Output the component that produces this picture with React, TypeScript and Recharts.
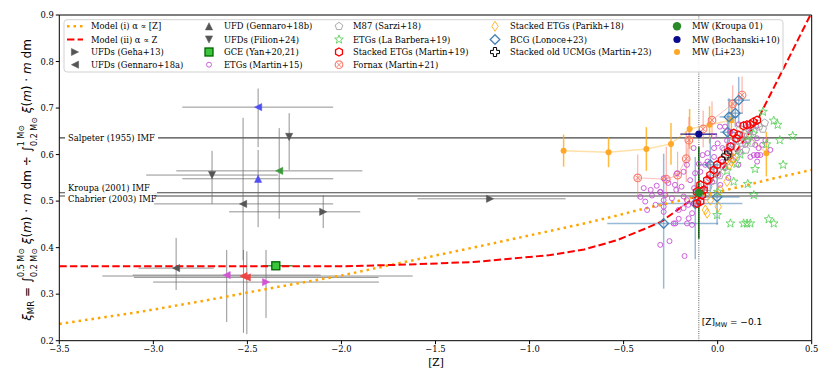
import React from 'react';
import { ComposedChart, XAxis, YAxis, Scatter, Line, ReferenceLine, ErrorBar } from 'recharts';

const W = 830;
const H = 383;
const SERIF = '"DejaVu Serif", serif';
const SANS = '"DejaVu Sans", sans-serif';

// ---------- tick labels ----------
const xTicks = [-3.5, -3.0, -2.5, -2.0, -1.5, -1.0, -0.5, 0.0, 0.5];
const yTicks = [0.2, 0.3, 0.4, 0.5, 0.6, 0.7, 0.8, 0.9];

// ---------- IMF reference values ----------
const imfSalpeter = 0.636;
const imfKroupa = 0.518;
const imfChabrier = 0.511;
const zMW = -0.1;

// ---------- model curves [x, y] ----------
const modelI = [
  [-3.5, 0.236], [-3.07, 0.262], [-2.7, 0.288], [-2.36, 0.314], [-2.0, 0.34], [-1.7, 0.366],
  [-1.3, 0.4], [-0.89, 0.436], [-0.71, 0.452], [-0.535, 0.469], [-0.39, 0.484], [-0.3, 0.492],
  [0.12, 0.531], [0.3, 0.549], [0.5, 0.567],
];
const modelII = [
  [-3.5, 0.36], [-2.0, 0.36], [-1.7, 0.363], [-1.3, 0.369], [-0.89, 0.384], [-0.71, 0.396],
  [-0.535, 0.416], [-0.39, 0.44], [-0.3, 0.456], [-0.2, 0.485], [-0.1, 0.515], [0.0, 0.556],
  [0.1, 0.608], [0.2, 0.665], [0.3, 0.745], [0.4, 0.825], [0.493, 0.9],
];

// ---------- UFDs: [x, y, exLow, exHigh, eyLow, eyHigh] ----------
const ufdGrayRight = [[-2.097, 0.477, 0.5, 0.197, 0.035, 0.036], [-1.21, 0.505, 0.386, 0.402, 0, 0]];
const ufdMagentaRight = [[-2.401, 0.326, 0.6, 0.6, 0.077, 0.069]];
const ufdGrayLeft = [[-2.523, 0.494, 0.473, 0.479, 0.121, 0.185], [-2.879, 0.356, 0.2, 0.2, 0.047, 0.065]];
const ufdBlueLeft = [[-2.443, 0.702, 0.403, 0.399, 0.086, 0.04]];
const ufdGreenLeft = [[-2.331, 0.565, 0.547, 0.442, 0.103, 0.092]];
const ufdMagentaLeft = [[-2.61, 0.341, 0.5, 0.5, 0.101, 0.054]];
const ufdRedLeft = [[-2.521, 0.339, 0.75, 0.9, 0.122, 0.056], [-2.503, 0.336, 0.6, 0.7, 0.122, 0.056]];
const ufdBlueUp = [[-2.443, 0.548, 0.403, 0.399, 0.104, 0.062]];
const ufdGrayDown = [[-2.278, 0.638, 0, 0, 0.071, 0.051], [-2.688, 0.556, 0.35, 0.35, 0.062, 0.052]];
const gceYan = [[-2.349, 0.361, 0.07, 0.09, 0, 0]];

// ---------- ETGs (Martin+15) [x, y] ----------
const etgsMartin15 = [
  [-0.305, 0.406], [-0.256, 0.414], [-0.176, 0.382], [-0.375, 0.481], [-0.225, 0.452], [-0.207, 0.462],
  [-0.234, 0.452], [-0.163, 0.452], [-0.136, 0.449], [-0.154, 0.463], [-0.136, 0.474], [-0.181, 0.485],
  [-0.207, 0.481], [-0.243, 0.506], [-0.287, 0.477], [-0.287, 0.488], [-0.287, 0.502], [-0.278, 0.513],
  [-0.305, 0.519], [-0.33, 0.492], [-0.349, 0.512], [-0.385, 0.499], [-0.181, 0.51], [-0.163, 0.502],
  [0.012, 0.66], [0.039, 0.66], [0.112, 0.665], [0.156, 0.66], [0.174, 0.649], [0.068, 0.649],
  [0.209, 0.635], [0.227, 0.599], [0.209, 0.599], [0.192, 0.599], [0.174, 0.595], [0.21, 0.585],
  [0.0, 0.624], [0.025, 0.614], [-0.019, 0.614], [-0.054, 0.603], [-0.019, 0.595], [-0.054, 0.585],
  [-0.08, 0.599], [-0.163, 0.578], [-0.181, 0.563], [-0.216, 0.56], [-0.287, 0.549], [-0.305, 0.52],
  [-0.192, 0.531], [-0.227, 0.535], [-0.128, 0.614], [-0.146, 0.545], [-0.125, 0.528], [-0.092, 0.563],
  [-0.066, 0.578], [-0.012, 0.567], [0.025, 0.584], [0.057, 0.61], [0.094, 0.631], [0.131, 0.642],
  [0.163, 0.631], [0.254, 0.631], [0.28, 0.61], [0.237, 0.621], [0.147, 0.621], [0.121, 0.606],
  [0.083, 0.588], [0.04, 0.571], [0.004, 0.556], [-0.028, 0.541], [-0.066, 0.528], [-0.092, 0.507],
  [-0.119, 0.496], [-0.156, 0.492], [0.014, 0.535], [0.057, 0.55], [0.11, 0.578], [-0.22, 0.524],
  [-0.262, 0.539], [-0.324, 0.533], [-0.356, 0.524], [-0.41, 0.509], [-0.393, 0.528], [0.2, 0.621],
  [0.218, 0.614], [0.213, 0.599], [0.206, 0.661], [-0.1, 0.58], [-0.05, 0.55], [-0.12, 0.56],
  [0.08, 0.62], [-0.02, 0.64], [0.05, 0.63],
];

// ---------- M87 (Sarzi+18) ----------
const m87Sarzi = [
  [-0.09, 0.52], [-0.07, 0.535], [-0.05, 0.53], [-0.04, 0.55], [-0.02, 0.545], [0.0, 0.565],
  [0.01, 0.555], [0.03, 0.575], [0.02, 0.59], [0.05, 0.585], [0.06, 0.6], [0.08, 0.605],
  [0.07, 0.625], [0.1, 0.615], [0.11, 0.63], [0.13, 0.625], [0.14, 0.645], [0.16, 0.64],
  [0.17, 0.655], [0.19, 0.65], [0.2, 0.665], [0.22, 0.66], [0.24, 0.655], [0.25, 0.668],
  [0.1, 0.595], [0.15, 0.61], [0.18, 0.625], [-0.03, 0.575], [0.04, 0.61], [0.12, 0.655],
  [-0.11, 0.505], [-0.06, 0.51],
];

// ---------- ETGs (La Barbera+19) ----------
const etgsLaBarbera = [
  [0.241, 0.692], [0.298, 0.673], [0.319, 0.664], [0.399, 0.64], [0.33, 0.631], [0.259, 0.622],
  [0.348, 0.578], [0.199, 0.569], [0.16, 0.537], [0.192, 0.513], [0.271, 0.461], [0.298, 0.452],
  [0.138, 0.452], [0.156, 0.452], [0.174, 0.452], [0.068, 0.452], [-0.003, 0.47], [0.085, 0.542],
  [0.12, 0.6], [0.16, 0.63], [0.05, 0.565], [0.19, 0.645], [0.0, 0.52], [0.1, 0.58],
];

// ---------- Stacked ETGs (Martin+19) ----------
const stackedMartin19 = [
  [0.209, 0.674], [0.174, 0.665], [0.138, 0.662], [0.112, 0.642], [0.1, 0.635], [0.068, 0.617],
  [0.056, 0.606], [0.023, 0.588], [-0.003, 0.578], [-0.021, 0.567], [-0.039, 0.556], [-0.056, 0.545],
  [-0.092, 0.535], [-0.11, 0.52], [-0.074, 0.524], [-0.083, 0.513], [-0.11, 0.495], [-0.092, 0.499],
  [0.085, 0.646], [0.156, 0.664], [0.19, 0.67],
];

// ---------- Fornax (Martin+21) [x, y, eyLow, eyHigh] ----------
const fornaxMartin21 = [
  [-0.425, 0.55, 0.045, 0.05], [-0.273, 0.547, 0.04, 0.07], [-0.213, 0.556, 0.04, 0.05],
  [-0.167, 0.591, 0.05, 0.06], [-0.153, 0.631, 0.045, 0.05], [-0.077, 0.655, 0.04, 0.04],
  [-0.03, 0.674, 0.04, 0.04], [0.08, 0.709, 0.04, 0.04], [0.13, 0.728, 0.04, 0.04],
];

// ---------- Stacked ETGs (Parikh+18) ----------
const stackedParikh18 = [
  [-0.056, 0.474], [-0.065, 0.481], [0.003, 0.488], [0.085, 0.592], [0.073, 0.585],
  [0.064, 0.578], [0.05, 0.542], [0.014, 0.524], [-0.039, 0.502],
];

// ---------- BCG (Lonoce+23) [x, y, exLow, exHigh, eyLow, eyHigh] ----------
const bcgLonoce = [
  [0.112, 0.717, 0.06, 0.06, 0.05, 0.05], [0.094, 0.689, 0.04, 0.04, 0.03, 0.03],
  [0.06, 0.681, 0.05, 0.05, 0.04, 0.04], [0.053, 0.648, 0.04, 0.04, 0.04, 0.04],
  [-0.039, 0.578, 0.06, 0.06, 0.06, 0.06], [-0.287, 0.452, 0.3, 0.29, 0.14, 0.15],
  [-0.119, 0.495, 0.2, 0.25, 0.12, 0.1], [-0.003, 0.509, 0.15, 0.12, 0.06, 0.08],
];

// ---------- Stacked old UCMGs (Martin+23) ----------
const ucmgMartin23 = [[0.046, 0.598]];

// ---------- Milky Way ----------
const mwKroupa = [[-0.1, 0.518, 0.099, 0.099]];
const mwBochanski = [[-0.1, 0.644, 0.098, 0.097]];
const mwLi23 = [
  [-0.819, 0.608, 0.034, 0.035], [-0.58, 0.605, 0.032, 0.032], [-0.379, 0.612, 0.047, 0.047],
  [-0.248, 0.623, 0.045, 0.045], [-0.149, 0.655, 0.043, 0.043], [-0.043, 0.664, 0.04, 0.04],
  [0.073, 0.674, 0.04, 0.04], [0.259, 0.603, 0.05, 0.046],
];

// ---------- helpers ----------
const pts = (a: number[][]) => a.map((p) => ({ x: p[0], y: p[1] }));
const ptsXY = (a: number[][]) => a.map((p) => ({ x: p[0], y: p[1], ex: [p[2], p[3]], ey: [p[4], p[5]] }));
const ptsY = (a: number[][]) => a.map((p) => ({ x: p[0], y: p[1], ey: [p[2], p[3]] }));
const ptsX = (a: number[][]) => a.map((p) => ({ x: p[0], y: p[1], ex: [p[2], p[3]] }));

const fmt = (v: number) => v.toFixed(1).replace('-', '\u2212');

const poly = (cx: number, cy: number, p: number[][]) =>
  p.map((q) => `${(cx + q[0]).toFixed(2)},${(cy + q[1]).toFixed(2)}`).join(' ');
const regular = (n: number, r: number) =>
  Array.from({ length: n }, (_, i) => {
    const a = (i * 2 * Math.PI) / n;
    return [r * Math.sin(a), -r * Math.cos(a)];
  });
const starPts = (ro: number, ri: number) =>
  Array.from({ length: 10 }, (_, i) => {
    const a = (i * Math.PI) / 5;
    const r = i % 2 === 0 ? ro : ri;
    return [r * Math.sin(a), -r * Math.cos(a)];
  });

type MP = { cx?: number; cy?: number };
const triShape = (dir: string, fill: string, s = 3.6) => (p: MP) => {
  const cx = p.cx ?? 0;
  const cy = p.cy ?? 0;
  let q: number[][] = [];
  if (dir === 'right') q = [[s, 0], [-s, -s], [-s, s]];
  if (dir === 'left') q = [[-s, 0], [s, -s], [s, s]];
  if (dir === 'up') q = [[0, -s], [-s, s], [s, s]];
  if (dir === 'down') q = [[0, s], [-s, -s], [s, -s]];
  return <polygon points={poly(cx, cy, q)} fill={fill} stroke={fill} strokeWidth={0.5} />;
};
const squareShape = (p: MP) => {
  const cx = p.cx ?? 0;
  const cy = p.cy ?? 0;
  return <rect x={cx - 4} y={cy - 4} width={8} height={8} fill="#3cc43c" stroke="#006400" strokeWidth={1.3} />;
};
const smallCircle = (p: MP) => (
  <circle cx={p.cx} cy={p.cy} r={2.5} fill="none" stroke="#c64fd6" strokeWidth={0.9} />
);
const pentShape = (p: MP) => (
  <polygon points={poly(p.cx ?? 0, p.cy ?? 0, regular(5, 4))} fill="none" stroke="#a0a0a0" strokeWidth={0.9} />
);
const starShape = (p: MP) => (
  <polygon points={poly(p.cx ?? 0, p.cy ?? 0, starPts(4.6, 1.9))} fill="none" stroke="#5fd35f" strokeWidth={0.9} />
);
const hexShape = (p: MP) => (
  <polygon points={poly(p.cx ?? 0, p.cy ?? 0, regular(6, 4))} fill="none" stroke="#ff0000" strokeWidth={1.3} />
);
const fornaxShape = (p: MP) => {
  const cx = p.cx ?? 0;
  const cy = p.cy ?? 0;
  return (
    <g>
      <circle cx={cx} cy={cy} r={3.8} fill="none" stroke="#fa8072" strokeWidth={1.2} />
      <line x1={cx - 2.5} y1={cy - 2.5} x2={cx + 2.5} y2={cy + 2.5} stroke="#fa8072" strokeWidth={1} />
      <line x1={cx - 2.5} y1={cy + 2.5} x2={cx + 2.5} y2={cy - 2.5} stroke="#fa8072" strokeWidth={1} />
    </g>
  );
};
const thinDiamond = (p: MP) => (
  <polygon points={poly(p.cx ?? 0, p.cy ?? 0, [[0, -5], [3.2, 0], [0, 5], [-3.2, 0]])} fill="none" stroke="#ffa500" strokeWidth={0.8} />
);
const diamondShape = (p: MP) => (
  <polygon points={poly(p.cx ?? 0, p.cy ?? 0, [[0, -4.8], [4.8, 0], [0, 4.8], [-4.8, 0]])} fill="none" stroke="#4682b4" strokeWidth={1.3} />
);
const plusShape = (p: MP) => {
  const a = 4.5;
  const t = 1.6;
  return (
    <polygon
      points={poly(p.cx ?? 0, p.cy ?? 0, [
        [-t, -a], [t, -a], [t, -t], [a, -t], [a, t], [t, t], [t, a], [-t, a], [-t, t], [-a, t], [-a, -t], [-t, -t],
      ])}
      fill="none"
      stroke="#000"
      strokeWidth={1}
    />
  );
};
const dotShape = (color: string, r: number) => (p: MP) => <circle cx={p.cx} cy={p.cy} r={r} fill={color} />;

const UFD_ERR = 'rgba(110,110,110,0.75)';

const ImfLabel = (props: any) => {
  const vb = props.viewBox || { x: 0, y: 0 };
  const y = vb.y + props.off;
  return (
    <g>
      <rect x={vb.x + 5.7} y={y - 5.5} width={props.w} height={11} fill="#fff" />
      <text x={vb.x + 8.7} y={y} dominantBaseline="central" fontSize={8.4} fontFamily={SERIF} fill="#000">
        {props.text}
      </text>
    </g>
  );
};
const MWLabel = (props: any) => {
  const vb = props.viewBox || { x: 0, y: 0, height: 0 };
  return (
    <text x={vb.x + 3} y={vb.y + vb.height - 16} fontSize={9} fontFamily={SANS} fill="#000">
      [Z]
      <tspan fontSize={6.5} dy={2}>MW</tspan>
      <tspan dy={-2}> = {'\u2212'}0.1</tspan>
    </text>
  );
};

// ---------- legend ----------
const legRows = [26.3, 39.5, 52, 64.7];
const legCols = [75, 209, 339, 495, 677];
const legText = [91, 224, 353, 510, 692];
const legendItems: { col: number; row: number; label: any; kind: string }[] = [
  { col: 0, row: 0, label: 'Model (i) \u03b1 \u221d [Z]', kind: 'mI' },
  { col: 0, row: 1, label: 'Model (ii) \u03b1 \u221d Z', kind: 'mII' },
  { col: 0, row: 2, label: 'UFDs (Geha+13)', kind: 'right' },
  { col: 0, row: 3, label: 'UFDs (Gennaro+18a)', kind: 'left' },
  { col: 1, row: 0, label: 'UFD (Gennaro+18b)', kind: 'up' },
  { col: 1, row: 1, label: 'UFDs (Filion+24)', kind: 'down' },
  { col: 1, row: 2, label: 'GCE (Yan+20,21)', kind: 'square' },
  { col: 1, row: 3, label: 'ETGs (Martin+15)', kind: 'circ' },
  { col: 2, row: 0, label: 'M87 (Sarzi+18)', kind: 'pent' },
  { col: 2, row: 1, label: 'ETGs (La Barbera+19)', kind: 'star' },
  { col: 2, row: 2, label: 'Stacked ETGs (Martin+19)', kind: 'hex' },
  { col: 2, row: 3, label: 'Fornax (Martin+21)', kind: 'fornax' },
  { col: 3, row: 0, label: 'Stacked ETGs (Parikh+18)', kind: 'thind' },
  { col: 3, row: 1, label: 'BCG (Lonoce+23)', kind: 'diam' },
  { col: 3, row: 2, label: 'Stacked old UCMGs (Martin+23)', kind: 'plus' },
  { col: 4, row: 0, label: 'MW (Kroupa 01)', kind: 'kroupa' },
  { col: 4, row: 1, label: 'MW (Bochanski+10)', kind: 'boch' },
  { col: 4, row: 2, label: 'MW (Li+23)', kind: 'li' },
];
const legendMarker = (kind: string, cx: number, cy: number) => {
  const p = { cx, cy };
  switch (kind) {
    case 'mI':
      return <line x1={cx - 8} y1={cy} x2={cx + 8} y2={cy} stroke="#ffa500" strokeWidth={2.5} strokeDasharray="2.5 4" />;
    case 'mII':
      return <line x1={cx - 8} y1={cy} x2={cx + 8} y2={cy} stroke="#ff0000" strokeWidth={2} strokeDasharray="7.4 3.2" />;
    case 'right':
    case 'left':
    case 'up':
    case 'down':
      return triShape(kind, '#555555')(p);
    case 'square':
      return squareShape(p);
    case 'circ':
      return smallCircle(p);
    case 'pent':
      return pentShape(p);
    case 'star':
      return starShape(p);
    case 'hex':
      return hexShape(p);
    case 'fornax':
      return fornaxShape(p);
    case 'thind':
      return thinDiamond(p);
    case 'diam':
      return diamondShape(p);
    case 'plus':
      return plusShape(p);
    case 'kroupa':
      return dotShape('#2a8a2a', 4.2)(p);
    case 'boch':
      return dotShape('#0a0a8c', 3.6)(p);
    case 'li':
      return dotShape('#ffa726', 3)(p);
    default:
      return null;
  }
};

const Overlay = () => (
  <svg width={W} height={H} style={{ position: 'absolute', left: 0, top: 0, pointerEvents: 'none' }}>
    <rect x={64} y={19.7} width={719} height={52.3} rx={3} fill="rgba(255,255,255,0.9)" stroke="#cccccc" strokeWidth={0.9} />
    {legendItems.map((it, i) => (
      <g key={i}>
        {legendMarker(it.kind, legCols[it.col], legRows[it.row])}
        <text x={legText[it.col]} y={legRows[it.row]} dominantBaseline="central" fontSize={8.4} fontFamily={SERIF} fill="#000">
          {it.label}
        </text>
      </g>
    ))}
    <text x={436} y={366} textAnchor="middle" fontSize={10.5} fontFamily={SERIF} fill="#000">
      [Z]
    </text>
    <text transform="translate(31,180) rotate(-90)" textAnchor="middle" fontFamily={SANS} fontSize={12} fill="#000">
      <tspan fontStyle="italic">{'\u03be'}</tspan>
      <tspan fontSize={8.5} dy={3}>MR</tspan>
      <tspan dy={-3}> = {'\u222b'}</tspan>
      <tspan fontSize={8} dy={-7}>0.5 M{'\u2299'}</tspan>
      <tspan fontSize={8} dx={-28.9} dy={13}>0.2 M{'\u2299'}</tspan>
      <tspan dy={-6}> </tspan>
      <tspan fontStyle="italic">{'\u03be'}</tspan>
      <tspan>(</tspan>
      <tspan fontStyle="italic">m</tspan>
      <tspan>) {'\u00b7'} </tspan>
      <tspan fontStyle="italic">m</tspan>
      <tspan> dm {'\u00f7'} {'\u222b'}</tspan>
      <tspan fontSize={8} dy={-7}>1 M{'\u2299'}</tspan>
      <tspan fontSize={8} dx={-21} dy={13}>0.2 M{'\u2299'}</tspan>
      <tspan dy={-6}> </tspan>
      <tspan fontStyle="italic">{'\u03be'}</tspan>
      <tspan>(</tspan>
      <tspan fontStyle="italic">m</tspan>
      <tspan>) {'\u00b7'} </tspan>
      <tspan fontStyle="italic">m</tspan>
      <tspan> dm</tspan>
    </text>
  </svg>
);

export default function App() {
  return (
    <div style={{ position: 'absolute', left: 0, top: 0, width: W, height: H, background: '#fff' }}>
      <ComposedChart width={W} height={H} margin={{ top: 15, right: 18.3, bottom: 12.3, left: 0 }}>
        <XAxis
          type="number"
          dataKey="x"
          domain={[-3.5, 0.5]}
          ticks={xTicks}
          interval={0}
          allowDataOverflow
          tickFormatter={fmt}
          tick={{ fontSize: 8.4, fill: '#000', fontFamily: SERIF }}
          tickLine={{ stroke: '#000' }}
          axisLine={{ stroke: '#000' }}
          tickSize={3.5}
          height={30}
        />
        <YAxis
          type="number"
          dataKey="y"
          domain={[0.2, 0.9]}
          ticks={yTicks}
          interval={0}
          allowDataOverflow
          tickFormatter={fmt}
          tick={{ fontSize: 8.4, fill: '#000', fontFamily: SERIF }}
          tickLine={{ stroke: '#000' }}
          axisLine={{ stroke: '#000' }}
          tickSize={3.5}
          width={59.3}
        />
        <ReferenceLine y={imfSalpeter} stroke="#444" strokeWidth={1.1} />
        <ReferenceLine y={imfKroupa} stroke="#444" strokeWidth={1.1} />
        <ReferenceLine y={imfChabrier} stroke="#444" strokeWidth={1.1} />
        <ReferenceLine y={imfSalpeter} stroke="none" label={<ImfLabel text="Salpeter (1955) IMF" off={0} w={93} />} />
        <ReferenceLine y={imfKroupa} stroke="none" label={<ImfLabel text="Kroupa (2001) IMF" off={-4.7} w={92} />} />
        <ReferenceLine y={imfChabrier} stroke="none" label={<ImfLabel text="Chabrier (2003) IMF" off={2.8} w={89} />} />

        {[
          { d: ufdGrayRight, s: triShape('right', '#555555') },
          { d: ufdMagentaRight, s: triShape('right', '#d455d4') },
          { d: ufdGrayLeft, s: triShape('left', '#555555') },
          { d: ufdBlueLeft, s: triShape('left', '#4f4ff5') },
          { d: ufdGreenLeft, s: triShape('left', '#3a9a3a') },
          { d: ufdMagentaLeft, s: triShape('left', '#d455d4') },
          { d: ufdRedLeft, s: triShape('left', '#ee4444') },
          { d: ufdBlueUp, s: triShape('up', '#4f4ff5') },
          { d: ufdGrayDown, s: triShape('down', '#555555') },
        ].map((g, i) => (
          <Scatter key={'ufd' + i} data={ptsXY(g.d)} shape={g.s} isAnimationActive={false}>
            <ErrorBar dataKey="ex" direction="x" width={0} stroke={UFD_ERR} strokeWidth={1} />
            <ErrorBar dataKey="ey" direction="y" width={0} stroke={UFD_ERR} strokeWidth={1} />
          </Scatter>
        ))}
        <Scatter data={ptsXY(gceYan)} shape={squareShape} isAnimationActive={false}>
          <ErrorBar dataKey="ex" direction="x" width={0} stroke="#2a8a2a" strokeWidth={1.3} />
        </Scatter>

        <Scatter
          data={ptsY(mwLi23)}
          shape={dotShape('#ffa726', 3)}
          line={{ stroke: 'rgba(255,165,0,0.35)', strokeWidth: 1.5 }}
          isAnimationActive={false}
        >
          <ErrorBar dataKey="ey" direction="y" width={0} stroke="rgba(255,165,0,0.75)" strokeWidth={1.5} />
        </Scatter>
        <Scatter
          data={ptsY(fornaxMartin21)}
          shape={fornaxShape}
          line={{ stroke: 'rgba(250,128,114,0.5)', strokeWidth: 1 }}
          isAnimationActive={false}
        >
          <ErrorBar dataKey="ey" direction="y" width={0} stroke="rgba(250,128,114,0.6)" strokeWidth={1.2} />
        </Scatter>
        <Scatter data={ptsXY(bcgLonoce)} shape={diamondShape} isAnimationActive={false}>
          <ErrorBar dataKey="ex" direction="x" width={0} stroke="rgba(70,130,180,0.55)" strokeWidth={1.5} />
          <ErrorBar dataKey="ey" direction="y" width={0} stroke="rgba(70,130,180,0.55)" strokeWidth={1.5} />
        </Scatter>
        <Scatter data={pts(etgsMartin15)} shape={smallCircle} isAnimationActive={false} />
        <Scatter data={pts(m87Sarzi)} shape={pentShape} isAnimationActive={false} />
        <Scatter data={pts(etgsLaBarbera)} shape={starShape} isAnimationActive={false} />
        <Scatter data={pts(stackedParikh18)} shape={thinDiamond} isAnimationActive={false} />
        <Scatter data={pts(stackedMartin19)} shape={hexShape} isAnimationActive={false} />
        <Scatter data={pts(ucmgMartin23)} shape={plusShape} isAnimationActive={false} />

        <Line
          data={pts(modelI)}
          dataKey="y"
          type="linear"
          stroke="#ffa500"
          strokeWidth={2.5}
          strokeDasharray="2.5 4"
          dot={false}
          activeDot={false}
          isAnimationActive={false}
        />
        <Line
          data={pts(modelII)}
          dataKey="y"
          type="linear"
          stroke="#ff0000"
          strokeWidth={2}
          strokeDasharray="7.4 3.2"
          dot={false}
          activeDot={false}
          isAnimationActive={false}
        />

        <Scatter data={ptsY(mwKroupa)} shape={dotShape('#2a8a2a', 4.2)} isAnimationActive={false}>
          <ErrorBar dataKey="ey" direction="y" width={0} stroke="#1e7a1e" strokeWidth={1.6} />
        </Scatter>
        <Scatter data={ptsX(mwBochanski)} shape={dotShape('#0a0a8c', 3.6)} isAnimationActive={false}>
          <ErrorBar dataKey="ex" direction="x" width={0} stroke="#0a0a8c" strokeWidth={1.3} />
        </Scatter>

        <ReferenceLine x={zMW} stroke="#000" strokeWidth={0.8} strokeDasharray="0.8 1.4" label={<MWLabel />} />
        <ReferenceLine y={0.9} stroke="#000" strokeWidth={1} />
        <ReferenceLine x={0.5} stroke="#000" strokeWidth={1} />
      </ComposedChart>
      <Overlay />
    </div>
  );
}
